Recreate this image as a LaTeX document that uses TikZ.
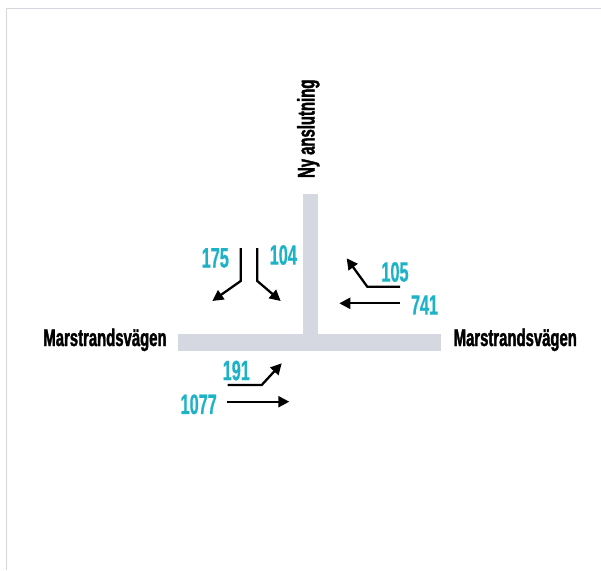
\documentclass[tikz,border=0pt]{standalone}
\usepackage{fontspec}
\usetikzlibrary{arrows.meta}
\newfontfamily\roadfont[FakeStretch=0.62,FakeBold=1.5]{Liberation Sans Bold}
\newfontfamily\numfont[FakeStretch=0.58,FakeBold=0.6]{Liberation Sans Bold}
\definecolor{roadgray}{HTML}{D5D8E0}
\definecolor{numteal}{HTML}{1DB2C6}
\definecolor{framegray}{HTML}{D6D6DE}
\tikzset{
  road/.style={fill=roadgray, draw=none},
  roadlabel/.style={font=\roadfont\fontsize{24}{24}\selectfont, text=black, inner sep=0pt, anchor=base},
  count/.style={font=\numfont\fontsize{28}{28}\selectfont, text=numteal, inner sep=0pt},
  flow/.style={line width=2.3pt, -{Triangle[length=11pt,width=11pt]}},
}
\begin{document}
\begin{tikzpicture}[x=1pt,y=-1pt]
\useasboundingbox (0,0) rectangle (601,570);
% frame
\draw[framegray, line width=1pt] (601,8.3) -- (6,8.3) -- (6,570);
% roads
\fill[road] (303,194) rectangle (318,342);
\fill[road] (178,334) rectangle (441,351);
% road labels
\node[roadlabel] (left) at (105,346) {Marstrandsvägen};
\node[roadlabel] (right) at (515.3,346) {Marstrandsvägen};
\node[roadlabel, rotate=90] (ny) at (314.5,128.8) {Ny anslutning};
% counts
\node[count] (n175) at (215.3,258) {175};
\node[count] (n104) at (283.3,255) {104};
\node[count] (n105) at (395,272) {105};
\node[count] (n741) at (424.5,305) {741};
\node[count] (n191) at (236.3,370.5) {191};
\node[count] (n1077) at (198.7,404.3) {1077};
% arrow points
\coordinate (s175) at (240.7,248);
\coordinate (c175) at (240.7,281);
\coordinate (t175) at (212.3,301);
\coordinate (s104) at (257.3,248);
\coordinate (c104) at (257.3,281);
\coordinate (t104) at (280.7,301);
\coordinate (s105) at (400,286.7);
\coordinate (c105) at (367.3,286.7);
\coordinate (t105) at (346.7,258.3);
\coordinate (s741) at (400,303.3);
\coordinate (t741) at (339.3,303.3);
\coordinate (s191) at (227.7,385);
\coordinate (c191) at (261.7,385);
\coordinate (t191) at (281.7,363.3);
\coordinate (s1077) at (226.7,401.7);
\coordinate (t1077) at (289.3,401.7);
% arrows
\draw[flow] (s175) -- (c175) -- (t175);
\draw[flow] (s104) -- (c104) -- (t104);
\draw[flow] (s105) -- (c105) -- (t105);
\draw[flow] (s741) -- (t741);
\draw[flow] (s191) -- (c191) -- (t191);
\draw[flow] (s1077) -- (t1077);
\end{tikzpicture}
\end{document}
